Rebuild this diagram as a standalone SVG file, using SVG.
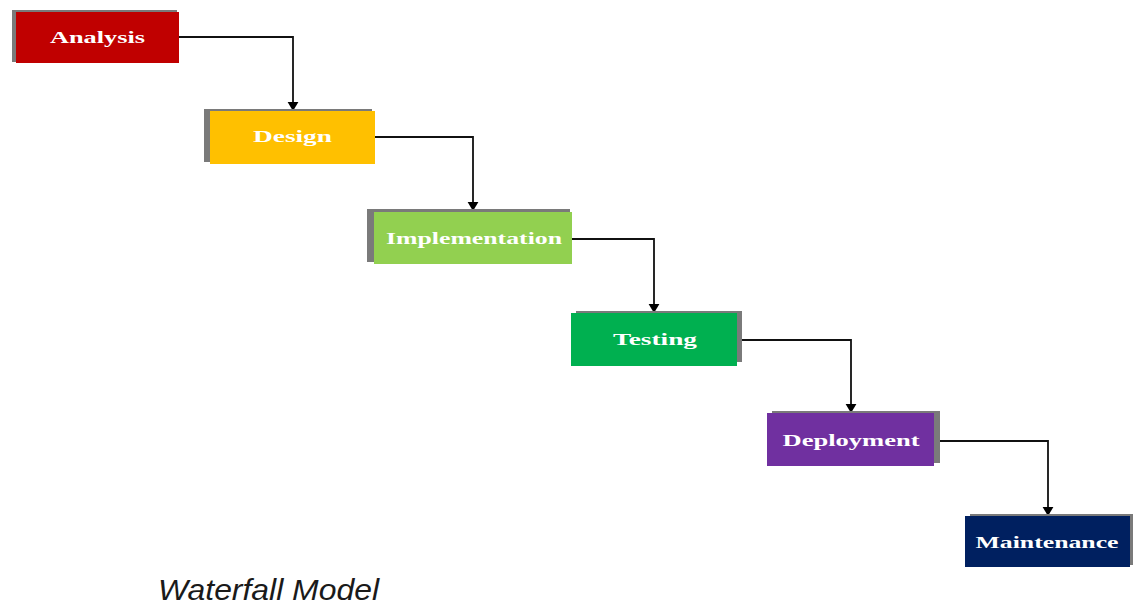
<svg xmlns="http://www.w3.org/2000/svg" width="1133" height="615" viewBox="0 0 1133 615">
<defs>
<marker id="arr" viewBox="0 0 10 12" refX="10" refY="6" markerWidth="9" markerHeight="12" markerUnits="userSpaceOnUse" orient="auto">
<path d="M0,0 L10,6 L0,12 z" fill="#000"/>
</marker>
<style>
.shadow{fill:#7a7a7a}
.lbl{font-family:"Liberation Serif","DejaVu Serif",serif;font-weight:bold;font-size:17px;fill:#fff;text-anchor:middle}
.conn{fill:none;stroke:#111;stroke-width:1.8}
.title{font-family:"Liberation Sans",Arial,sans-serif;font-style:italic;font-size:30px;fill:#1a1a1a}
</style>
</defs>
<rect width="1133" height="615" fill="#fff"/>
<g id="connectors">
<polyline class="conn" points="179,37 293,37 293,111" marker-end="url(#arr)"/>
<polyline class="conn" points="375,137 473,137 473,211" marker-end="url(#arr)"/>
<polyline class="conn" points="572,239 654,239 654,313" marker-end="url(#arr)"/>
<polyline class="conn" points="737,340 851,340 851,413" marker-end="url(#arr)"/>
<polyline class="conn" points="934,441 1048,441 1048,516" marker-end="url(#arr)"/>
</g>
<g id="analysis">
<rect class="shadow" x="12" y="10" width="165" height="52"/>
<rect x="16" y="12" width="163" height="51" fill="#C00000"/>
<text class="lbl" x="97.5" y="43" textLength="95" lengthAdjust="spacingAndGlyphs">Analysis</text>
</g>
<g id="design">
<rect class="shadow" x="204" y="109" width="168" height="53"/>
<rect x="210" y="111" width="165" height="53" fill="#FFC000"/>
<text class="lbl" x="292.5" y="142" textLength="79" lengthAdjust="spacingAndGlyphs">Design</text>
</g>
<g id="implementation">
<rect class="shadow" x="367" y="209" width="203" height="53"/>
<rect x="374" y="212" width="198" height="52" fill="#92D050"/>
<text class="lbl" x="474" y="244" textLength="176" lengthAdjust="spacingAndGlyphs">Implementation</text>
</g>
<g id="testing">
<rect class="shadow" x="576" y="311" width="166" height="51"/>
<rect x="571" y="313" width="166" height="53" fill="#00B050"/>
<text class="lbl" x="655" y="345" textLength="84" lengthAdjust="spacingAndGlyphs">Testing</text>
</g>
<g id="deployment">
<rect class="shadow" x="772" y="411" width="168" height="52"/>
<rect x="767" y="413" width="167" height="53" fill="#7030A0"/>
<text class="lbl" x="851" y="446" textLength="137" lengthAdjust="spacingAndGlyphs">Deployment</text>
</g>
<g id="maintenance">
<rect class="shadow" x="970" y="514" width="163" height="51"/>
<rect x="965" y="516" width="165" height="51" fill="#002060"/>
<text class="lbl" x="1047" y="548" textLength="143" lengthAdjust="spacingAndGlyphs">Maintenance</text>
</g>
<text class="title" x="158" y="600" textLength="221" lengthAdjust="spacingAndGlyphs">Waterfall Model</text>
</svg>
